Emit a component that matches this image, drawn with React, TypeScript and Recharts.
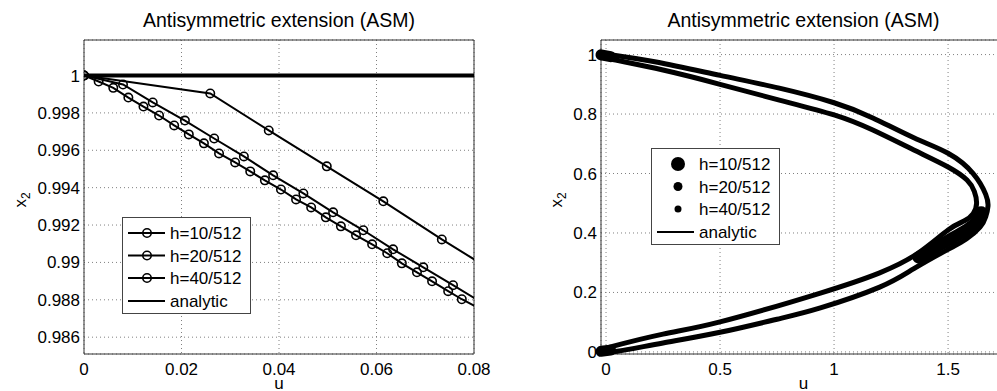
import React from "react";
import {
  LineChart,
  Line,
  XAxis,
  YAxis,
  CartesianGrid,
  ReferenceArea,
} from "recharts";

const FONT = "'Liberation Sans', Arial, Helvetica, sans-serif";
const TITLE = "Antisymmetric extension (ASM)";
const LEGEND_LABELS = ["h=10/512", "h=20/512", "h=40/512", "analytic"];

// ---- left panel: zoom near u = 0 ----
const L_X_TICKS = [0, 0.02, 0.04, 0.06, 0.08];
const L_Y_TICKS = [0.986, 0.988, 0.99, 0.992, 0.994, 0.996, 0.998, 1];

const h10U = [0, 0.003, 0.006, 0.0091, 0.0122, 0.0154, 0.0185, 0.0215, 0.0246, 0.0277, 0.031, 0.0341, 0.0371, 0.0404, 0.0435, 0.0466, 0.0496, 0.0527, 0.0558, 0.0591, 0.0622, 0.0652, 0.0683, 0.0714, 0.0747, 0.0775, 0.0806];
const h10X2 = [1, 0.99968, 0.99934, 0.99882, 0.99834, 0.99786, 0.99733, 0.99685, 0.99637, 0.99583, 0.99535, 0.99487, 0.99439, 0.9939, 0.99337, 0.99294, 0.99241, 0.99193, 0.99145, 0.99097, 0.99049, 0.98995, 0.98947, 0.98899, 0.98846, 0.98803, 0.9876];

const h20U = [0, 0.008, 0.0141, 0.0207, 0.0267, 0.0328, 0.0388, 0.045, 0.0511, 0.0573, 0.0634, 0.0696, 0.0757, 0.0818];
const h20X2 = [1, 0.99952, 0.99856, 0.99759, 0.99663, 0.99567, 0.99466, 0.99369, 0.99268, 0.99172, 0.9907, 0.98974, 0.98878, 0.98782];

const h40U = [0, 0.0259, 0.0379, 0.0498, 0.0614, 0.0734, 0.0854];
const h40X2 = [1, 0.99904, 0.99706, 0.99514, 0.99327, 0.99123, 0.9893];

const analyticU = [0, 0.0805];
const analyticX2 = [1, 1];

// ---- right panel: whole trajectory ----
const R_X_TICKS = [0, 0.5, 1, 1.5];
const R_Y_TICKS = [0, 0.2, 0.4, 0.6, 0.8, 1];

const outerU = [-0.012, 0.22, 0.5, 0.76, 1.0, 1.17, 1.35, 1.5, 1.61, 1.665, 1.675, 1.665, 1.64, 1.58, 1.5, 1.35, 1.2, 0.94, 0.75, 0.5, 0.25, 0.05, -0.012];
const outerX2 = [1.003, 0.975, 0.93, 0.887, 0.838, 0.787, 0.72, 0.668, 0.6, 0.53, 0.49, 0.455, 0.42, 0.38, 0.345, 0.28, 0.218, 0.148, 0.11, 0.066, 0.03, 0.002, -0.002];

const innerU = [-0.012, 0.02, 0.25, 0.5, 0.76, 1.0, 1.17, 1.35, 1.5, 1.583, 1.615, 1.625, 1.61, 1.57, 1.5, 1.364, 1.2, 0.94, 0.5, 0.25, 0.02, -0.012];
const innerX2 = [0.993, 0.985, 0.948, 0.9, 0.847, 0.797, 0.746, 0.679, 0.622, 0.578, 0.54, 0.5, 0.465, 0.44, 0.41, 0.33, 0.266, 0.198, 0.101, 0.06, 0.017, 0.008];

// coarse step: smeared parts of the band
const coarseU = [1.645, 1.62, 1.57, 1.5, 1.43, 1.37];
const coarseX2 = [0.47, 0.435, 0.405, 0.375, 0.345, 0.318];
const coarseTopU = [-0.022, 0.02];
const coarseTopX2 = [0.999, 0.993];
const coarseBotU = [-0.022, 0.02];
const coarseBotX2 = [0.002, 0.006];

const zip = (u: number[], x2: number[]) => u.map((v, i) => ({ u: v, x2: x2[i] }));

const tickStyle = { fill: "#000", fontSize: 17, fontFamily: FONT };

function ringDot(p: any) {
  const key = `d-${p.index}`;
  if (p.payload.u > 0.08) return <g key={key} />;
  return <circle key={key} cx={p.cx} cy={p.cy} r={4.2} fill="none" stroke="#000" strokeWidth={1.6} />;
}

function YLabel({ x, y }: { x: number; y: number }) {
  return (
    <text x={x} y={y} transform={`rotate(-90, ${x}, ${y})`} textAnchor="middle" fontSize={17} fontFamily={FONT} fill="#000">
      x<tspan dy={4} fontSize={12}>2</tspan>
    </text>
  );
}

function LegendBox({ left, top, dots }: { left: number; top: number; dots: boolean }) {
  const rows = [16, 38.5, 61, 84];
  const dotR = [7, 4.5, 3.5];
  return (
    <svg style={{ position: "absolute", left, top }} width={130} height={98}>
      <rect x={0.5} y={0.5} width={128} height={96} fill="#fff" stroke="#444" />
      {LEGEND_LABELS.map((lab, i) => (
        <g key={lab}>
          {(!dots || i === 3) && <line x1={6} x2={43} y1={rows[i]} y2={rows[i]} stroke="#000" strokeWidth={2} />}
          {!dots && i < 3 && <circle cx={25} cy={rows[i]} r={4.2} fill="none" stroke="#000" strokeWidth={1.6} />}
          {dots && i < 3 && <circle cx={27} cy={rows[i]} r={dotR[i]} fill="#000" />}
          <text x={48} y={rows[i] + 6} fontSize={17} fontFamily={FONT} fill="#000">
            {lab}
          </text>
        </g>
      ))}
    </svg>
  );
}

function Title({ cx }: { cx: number }) {
  return (
    <div
      style={{
        position: "absolute",
        left: cx - 200,
        top: 8,
        width: 400,
        textAlign: "center",
        fontFamily: FONT,
        fontSize: 19.5,
        lineHeight: "24px",
        color: "#000",
      }}
    >
      {TITLE}
    </div>
  );
}

export default function App() {
  return (
    <div style={{ position: "absolute", left: 0, top: 0, width: 997, height: 391, overflow: "hidden", background: "#fff" }}>
      <div style={{ position: "absolute", left: 0, top: 0 }}>
        <LineChart width={500} height={391} margin={{ top: 40, right: 26, bottom: 7, left: 0 }}>
          <CartesianGrid stroke="#808080" strokeDasharray="1 3" />
          <XAxis
            type="number"
            dataKey="u"
            domain={[0, 0.08]}
            ticks={L_X_TICKS}
            interval={0}
            allowDataOverflow
            height={30}
            axisLine={false}
            tickLine={false}
            tickSize={6}
            tickMargin={3}
            tick={tickStyle}
            label={{ content: () => <text x={279} y={389} textAnchor="middle" fontSize={17} fontFamily={FONT}>u</text> }}
          />
          <YAxis
            type="number"
            dataKey="x2"
            domain={[0.9851, 1.0019]}
            ticks={L_Y_TICKS}
            interval={0}
            allowDataOverflow
            width={84}
            axisLine={false}
            tickLine={false}
            tickSize={2}
            tickMargin={2}
            tick={tickStyle}
            tickFormatter={(v) => String(v)}
            label={{ content: () => <YLabel x={26} y={200} /> }}
          />
          <ReferenceArea x1={0} x2={0.08} y1={0.9851} y2={1.0019} fill="none" stroke="#333" strokeWidth={1} />
          <Line data={zip(analyticU, analyticX2)} dataKey="x2" stroke="#000" strokeWidth={4} dot={false} isAnimationActive={false} />
          <Line data={zip(h40U, h40X2)} dataKey="x2" stroke="#000" strokeWidth={2} dot={ringDot} isAnimationActive={false} />
          <Line data={zip(h20U, h20X2)} dataKey="x2" stroke="#000" strokeWidth={2} dot={ringDot} isAnimationActive={false} />
          <Line data={zip(h10U, h10X2)} dataKey="x2" stroke="#000" strokeWidth={2} dot={ringDot} isAnimationActive={false} />
        </LineChart>
      </div>
      <div style={{ position: "absolute", left: 500, top: 0 }}>
        <LineChart width={520} height={391} margin={{ top: 40, right: 14, bottom: 7, left: 0 }}>
          <CartesianGrid stroke="#808080" strokeDasharray="1 3" />
          <XAxis
            type="number"
            dataKey="u"
            domain={[-0.022, 1.754]}
            ticks={R_X_TICKS}
            interval={0}
            height={30}
            axisLine={false}
            tickLine={false}
            tickSize={6}
            tickMargin={3}
            tick={tickStyle}
            label={{ content: () => <text x={303.5} y={389} textAnchor="middle" fontSize={17} fontFamily={FONT}>u</text> }}
          />
          <YAxis
            type="number"
            dataKey="x2"
            domain={[-0.007, 1.049]}
            ticks={R_Y_TICKS}
            interval={0}
            width={101}
            axisLine={false}
            tickLine={false}
            tickSize={2}
            tickMargin={2}
            tick={tickStyle}
            tickFormatter={(v) => String(v)}
            label={{ content: () => <YLabel x={62} y={200} /> }}
          />
          <ReferenceArea x1={-0.022} x2={1.754} y1={-0.007} y2={1.049} fill="none" stroke="#333" strokeWidth={1} />
          <Line data={zip(outerU, outerX2)} dataKey="x2" type="natural" stroke="#000" strokeWidth={5} strokeLinecap="round" strokeLinejoin="round" dot={false} isAnimationActive={false} />
          <Line data={zip(innerU, innerX2)} dataKey="x2" type="natural" stroke="#000" strokeWidth={5} strokeLinecap="round" strokeLinejoin="round" dot={false} isAnimationActive={false} />
          <Line data={zip(coarseU, coarseX2)} dataKey="x2" type="natural" stroke="#000" strokeWidth={12} strokeLinecap="round" dot={false} isAnimationActive={false} />
          <Line data={zip(coarseTopU, coarseTopX2)} dataKey="x2" stroke="#000" strokeWidth={11} strokeLinecap="round" dot={false} isAnimationActive={false} />
          <Line data={zip(coarseBotU, coarseBotX2)} dataKey="x2" stroke="#000" strokeWidth={11} strokeLinecap="round" dot={false} isAnimationActive={false} />
          <Line data={zip(outerU, outerX2)} dataKey="x2" type="natural" stroke="#000" strokeWidth={2} dot={false} isAnimationActive={false} />
        </LineChart>
      </div>
      <Title cx={279} />
      <Title cx={803.5} />
      <LegendBox left={122} top={217} dots={false} />
      <LegendBox left={651} top={148} dots={true} />
    </div>
  );
}
